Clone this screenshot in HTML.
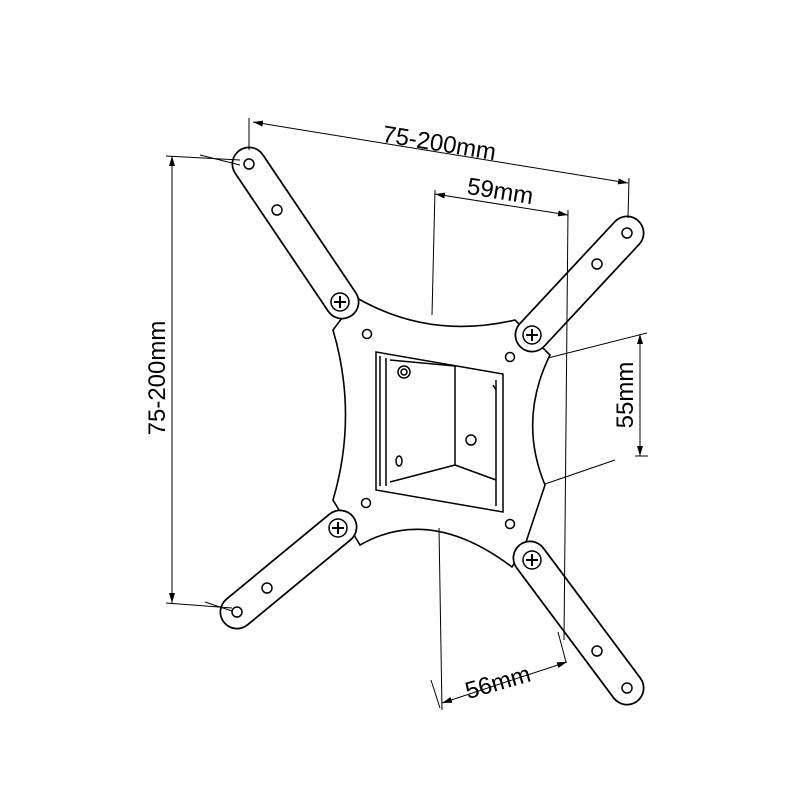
<!DOCTYPE html>
<html><head><style>body{margin:0;background:#fff}svg{display:block}</style></head><body>
<svg width="800" height="800" viewBox="0 0 800 800" xmlns="http://www.w3.org/2000/svg" font-family="Liberation Sans, sans-serif">
<defs>
<marker id="a" viewBox="0 0 10 6" refX="10" refY="3" markerWidth="10" markerHeight="6" orient="auto-start-reverse" markerUnits="userSpaceOnUse"><path d="M0,0 L10,3 L0,6z" fill="#000"/></marker>
</defs>
<g fill="#fff" stroke="#000" stroke-width="1.6">
<path d="M333,330 L357,298 Q430,340 515,320 L550,355 Q518,420 545,485 L525,545 L512,567 Q430,505 360,545 L333,500 Q358,415 333,330 Z"/>
</g>
<g stroke-linecap="round" fill="none">
<g stroke="#000" stroke-width="35">
<line x1="249" y1="164" x2="342" y2="302"/>
<line x1="627" y1="233" x2="532" y2="335"/>
<line x1="237" y1="612" x2="340" y2="527"/>
<line x1="627" y1="688" x2="530" y2="558"/>
</g>
<g stroke="#fff" stroke-width="31.5">
<line x1="249" y1="164" x2="342" y2="302"/>
<line x1="627" y1="233" x2="532" y2="335"/>
<line x1="237" y1="612" x2="340" y2="527"/>
<line x1="627" y1="688" x2="530" y2="558"/>
</g>
</g>
<g fill="#fff" stroke="#000" stroke-width="1.5">
<circle cx="249" cy="164" r="5"/><circle cx="627" cy="233" r="5"/><circle cx="237" cy="612" r="5"/><circle cx="627" cy="688" r="5"/>
<circle cx="277" cy="210" r="5"/><circle cx="597" cy="264" r="5"/><circle cx="267" cy="588" r="5"/><circle cx="597" cy="651" r="5"/>
<circle cx="367" cy="334" r="4.5"/><circle cx="510" cy="357" r="4.5"/><circle cx="366" cy="503" r="4.5"/><circle cx="510" cy="524" r="4.5"/>
<circle cx="340" cy="302" r="9"/><circle cx="532" cy="335" r="9"/><circle cx="338" cy="528" r="9"/><circle cx="532" cy="560" r="9"/>
</g>
<g stroke="#000" stroke-width="2">
<path d="M334,302h12M340,296v12M526,335h12M532,329v12M332,528h12M338,522v12M526,560h12M532,554v12"/>
</g>
<g fill="none" stroke="#000" stroke-width="1.5">
<path d="M376,352 L503,374 L503,512 L376,490 Z" fill="#fff"/>
<path d="M380,356 L380,486 M386,358 L386,486"/>
<path d="M390,360 L455,366 L455,465 L390,482"/>
<path d="M455,465 L496,480 M496,380 L496,506"/>
<circle cx="404" cy="372" r="6"/><circle cx="404" cy="372" r="3"/>
<circle cx="471" cy="440" r="5"/><ellipse cx="399" cy="461" rx="3" ry="5"/>
<path d="M493,385 L496,390"/>
</g>
<g stroke="#000" stroke-width="1" fill="none">
<line x1="253" y1="122" x2="628" y2="183" marker-start="url(#a)" marker-end="url(#a)"/>
<line x1="249" y1="118" x2="249" y2="150"/><line x1="629" y1="178" x2="628" y2="218"/>
<line x1="435" y1="194" x2="568" y2="215" marker-start="url(#a)" marker-end="url(#a)"/>
<line x1="435" y1="190" x2="432" y2="315"/><line x1="568" y1="210" x2="564" y2="640"/>
<line x1="640" y1="334" x2="640" y2="456" marker-start="url(#a)" marker-end="url(#a)"/>
<line x1="548" y1="358" x2="647" y2="333"/><line x1="545" y1="484" x2="615" y2="460"/><line x1="635" y1="456" x2="648" y2="456"/>
<line x1="172" y1="156" x2="172" y2="603" marker-start="url(#a)" marker-end="url(#a)"/>
<line x1="166" y1="156" x2="240" y2="160"/><line x1="166" y1="603" x2="232" y2="608"/>
<line x1="442" y1="703" x2="567" y2="662" marker-start="url(#a)" marker-end="url(#a)"/>
<line x1="439" y1="528" x2="442" y2="710"/><line x1="431" y1="680" x2="440" y2="708"/><line x1="558" y1="632" x2="566" y2="662"/>
<line x1="200" y1="155" x2="240" y2="165"/><line x1="205" y1="602" x2="232" y2="611"/>
</g>
<g font-size="24" fill="#000">
<text transform="translate(438,151) rotate(9.3)" text-anchor="middle">75-200mm</text>
<text transform="translate(499,199) rotate(9)" text-anchor="middle">59mm</text>
<text transform="translate(633,395) rotate(-90)" text-anchor="middle">55mm</text>
<text transform="translate(165,378) rotate(-90)" text-anchor="middle">75-200mm</text>
<text transform="translate(500,690) rotate(-16)" text-anchor="middle">56mm</text>
</g>
</svg>
</body></html>
